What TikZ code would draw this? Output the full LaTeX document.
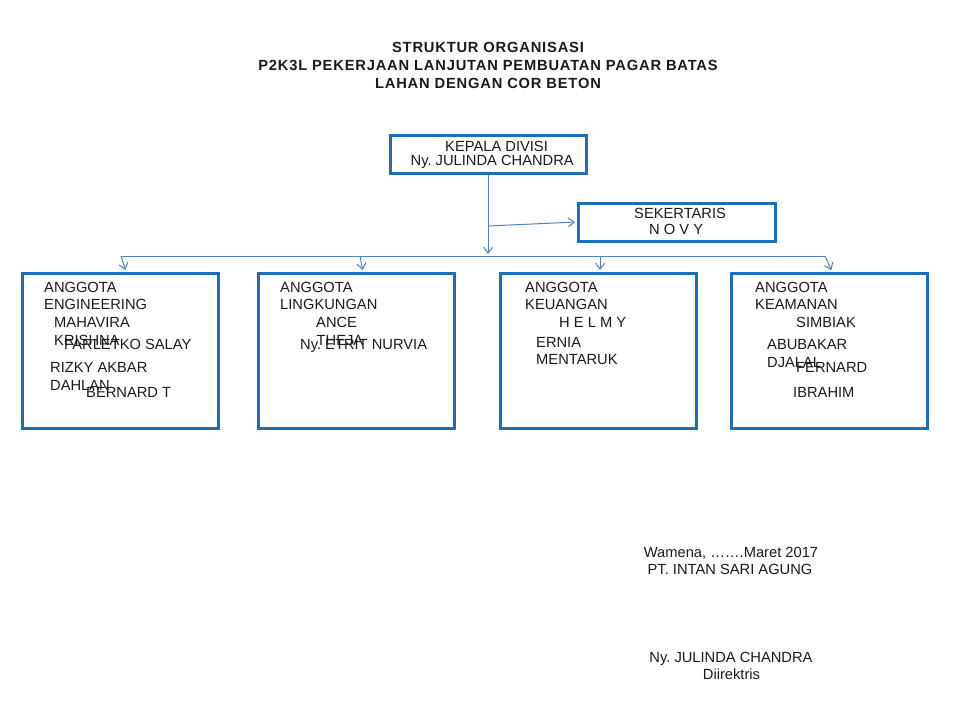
\documentclass[tikz,border=0pt]{standalone}
\usepackage{fontspec}
\setmainfont{Liberation Sans}
\newfontfamily\titlefont[LetterSpace=5.5]{Liberation Sans}
\usepackage{tikz}
\usetikzlibrary{arrows.meta}
\definecolor{boxblue}{HTML}{1F6DB4}
\definecolor{linkblue}{HTML}{4F81BD}
\definecolor{ink}{HTML}{1A1A1A}
\frenchspacing
\tikzset{
  lab/.style={text=ink, font=\fontsize{14.7}{17.5}\selectfont, inner sep=0pt, anchor=base west},
  head/.style={text=ink, font=\titlefont\fontsize{14.7}{17.5}\selectfont\bfseries, inner sep=0pt, anchor=base},
  sign/.style={text=ink, font=\fontsize{14.7}{17.5}\selectfont, inner sep=0pt, anchor=base},
  unitBox/.style={draw=boxblue, line width=3pt, minimum width=196pt, minimum height=155pt, inner sep=0pt},
  topBox/.style={draw=boxblue, line width=3pt, minimum width=196pt, minimum height=38pt, inner sep=0pt},
  link/.style={draw=linkblue, line width=1pt},
  linkArrow/.style={link, -{Straight Barb[length=6pt,width=9pt]}, shorten >=1.5pt}
}

\begin{document}
\begin{tikzpicture}[x=1pt, y=-1pt]
  \useasboundingbox (0,0) rectangle (960,720);

  % Title
  \node[head] (title1) at (488,52) {STRUKTUR ORGANISASI};
  \node[head] (title2) at (488,70.5) {P2K3L PEKERJAAN LANJUTAN PEMBUATAN PAGAR BATAS};
  \node[head] (title3) at (488,88) {LAHAN DENGAN COR BETON};

  % Kepala divisi
  \node[topBox] (kepala) at (488,154.5) {};
  \node[lab] (kepalaA) at (445,151) {KEPALA DIVISI};
  \node[lab] (kepalaB) at (410.5,165.5) {Ny. JULINDA CHANDRA};

  % Sekertaris
  \node[topBox, minimum width=197pt] (sekr) at (676.5,222) {};
  \node[lab] (sekrA) at (634,218.5) {SEKERTARIS};
  \node[lab] (sekrB) at (649,234.5) {N O V Y};

  % Anggota boxes
  \node[unitBox] (eng) at (120,350.5) {};
  \node[unitBox] (ling) at (356,350.5) {};
  \node[unitBox] (keu) at (598,350.5) {};
  \node[unitBox] (kea) at (829,350.5) {};

  % Engineering
  \node[lab] (engA) at (44,292) {ANGGOTA};
  \node[lab] (engB) at (44,309.5) {ENGINEERING};
  \node[lab] (engC) at (54,327.5) {MAHAVIRA};
  \node[lab] (engD) at (54,345) {KRISHNA};
  \node[lab] (engE) at (64,349.5) {FARLETKO SALAY};
  \node[lab] (engF) at (50,372) {RIZKY AKBAR};
  \node[lab] (engG) at (50,390) {DAHLAN};
  \node[lab] (engH) at (86,397.5) {BERNARD T};

  % Lingkungan
  \node[lab] (lingA) at (280,292) {ANGGOTA};
  \node[lab] (lingB) at (280,309.5) {LINGKUNGAN};
  \node[lab] (lingC) at (316,327.5) {ANCE};
  \node[lab] (lingD) at (316.5,345) {THEJA};
  \node[lab] (lingE) at (300,349.5) {Ny. ETRIT NURVIA};

  % Keuangan
  \node[lab] (keuA) at (525,292) {ANGGOTA};
  \node[lab] (keuB) at (525,309.5) {KEUANGAN};
  \node[lab] (keuC) at (559,327.5) {H E L M Y};
  \node[lab] (keuD) at (536,347) {ERNIA};
  \node[lab] (keuE) at (536,364.5) {MENTARUK};

  % Keamanan
  \node[lab] (keaA) at (755,292) {ANGGOTA};
  \node[lab] (keaB) at (755,309.5) {KEAMANAN};
  \node[lab] (keaC) at (796,327.5) {SIMBIAK};
  \node[lab] (keaD) at (767,349) {ABUBAKAR};
  \node[lab] (keaE) at (767,367) {DJALAL};
  \node[lab] (keaF) at (796,372) {FERNARD};
  \node[lab] (keaG) at (793,397.5) {IBRAHIM};

  % Connectors
  \coordinate (hub) at (488,255.5);
  \coordinate (split) at (488,226);
  \coordinate (barL) at (121,256);
  \coordinate (barB) at (360,256);
  \coordinate (barC) at (600,256);
  \coordinate (barR) at (825,256);
  \draw[linkArrow] (kepala.south) -- (hub);
  \draw[linkArrow] (split) -- (sekr.west);
  \draw[link] (barL) -- (barR);
  \draw[linkArrow] (barL) -- ([xshift=6pt]eng.north);
  \draw[linkArrow] (barB) -- ([xshift=7pt]ling.north);
  \draw[linkArrow] (barC) -- ([xshift=2pt]keu.north);
  \draw[linkArrow] (barR) -- ([xshift=3pt]kea.north);

  % Signature
  \node[sign] (place) at (731,557) {Wamena, …….Maret 2017};
  \node[sign] (firm) at (730,574.5) {PT. INTAN SARI AGUNG};
  \node[sign] (boss) at (731,662.5) {Ny. JULINDA CHANDRA};
  \node[sign] (role) at (731.5,679) {Diirektris};
\end{tikzpicture}
\end{document}
